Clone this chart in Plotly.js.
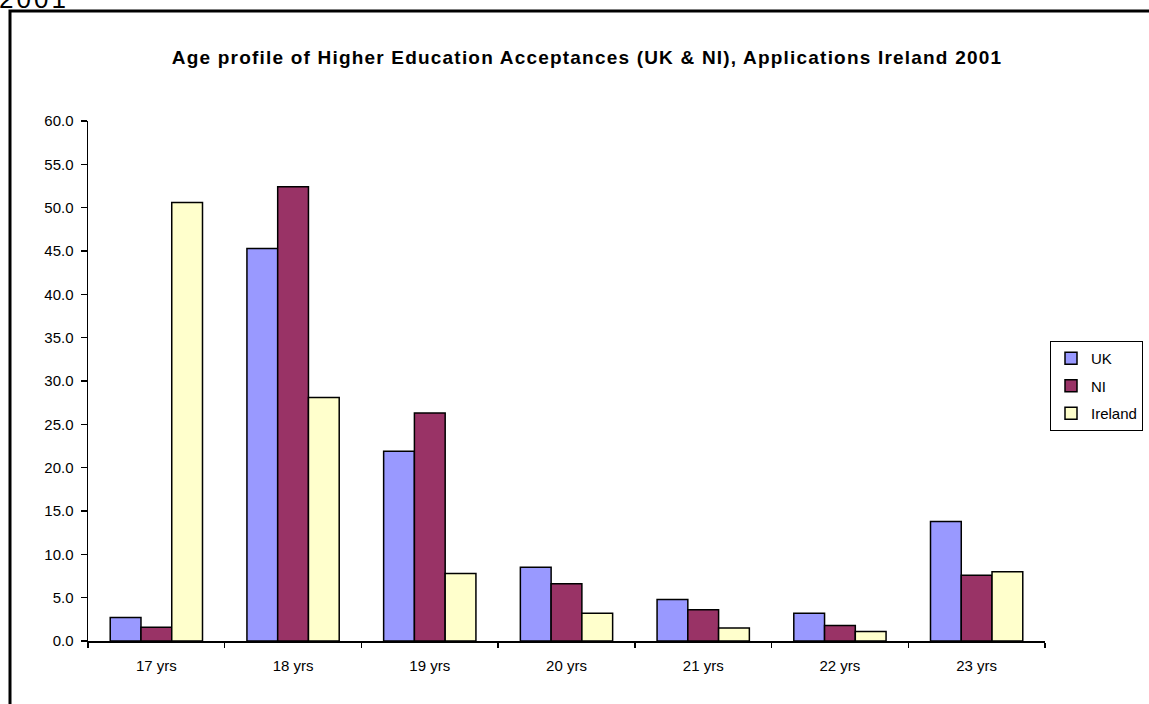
<!DOCTYPE html>
<html>
<head>
<meta charset="utf-8">
<script src="https://cdn.plot.ly/plotly-3.0.1.min.js"></script>
<style>
html,body{margin:0;padding:0;background:#fff;}
#chart{width:1149px;height:704px;}
#chart .gtitle{letter-spacing:1.2px;}
#chart .annotation-text{letter-spacing:3px;}
</style>
</head>
<body>
<div id="chart"></div>
<script>
const categories = ["17 yrs","18 yrs","19 yrs","20 yrs","21 yrs","22 yrs","23 yrs"];
const ukValues = [2.7, 45.3, 21.9, 8.5, 4.8, 3.2, 13.8];
const niValues = [1.6, 52.4, 26.3, 6.6, 3.6, 1.8, 7.6];
const irelandValues = [50.6, 28.1, 7.8, 3.2, 1.5, 1.1, 8.0];
const seriesNames = ["UK", "NI", "Ireland"];
const seriesColors = ["#9999FF", "#993366", "#FFFFCC"];

const W = 1149, H = 704;
const L = 88, R = 104, T = 121, B = 63;
const pw = W - L - R, ph = H - T - B;
const px = x => (x - L) / pw;
const py = y => (H - B - y) / ph;

const font = "Liberation Sans, Arial, sans-serif";
const allValues = [ukValues, niValues, irelandValues];
const traces = allValues.map((vals, i) => ({
  type: "bar",
  name: seriesNames[i],
  x: categories,
  y: vals,
  legendgroup: "g" + i,
  marker: {color: seriesColors[i], line: {color: "#000", width: 1.5}},
  hoverinfo: "x+y+name"
}));

const layout = {
  width: W, height: H,
  margin: {l: L, r: R, t: T, b: B, pad: 0, autoexpand: false},
  paper_bgcolor: "#fff", plot_bgcolor: "#fff",
  font: {family: font, color: "#000", size: 15},
  title: {
    text: "<b>Age profile of Higher Education Acceptances (UK & NI), Applications Ireland 2001</b>",
    font: {family: font, size: 19, color: "#000"},
    x: px(587), xref: "paper", xanchor: "center",
    y: 1 - 57 / H, yanchor: "middle"
  },
  barmode: "group",
  bargap: 0.325,
  bargroupgap: 0,
  xaxis: {
    type: "category",
    showline: true, linecolor: "#000", linewidth: 1.5,
    ticks: "outside", tickson: "boundaries", ticklen: 5, tickcolor: "#000", tickwidth: 1.5,
    ticklabelstandoff: 10,
    showgrid: false, zeroline: false,
    tickfont: {family: font, size: 15, color: "#000"},
    fixedrange: true
  },
  yaxis: {
    range: [0, 60], dtick: 5, tick0: 0, tickformat: ".1f",
    showline: true, linecolor: "#000", linewidth: 1.5,
    ticks: "outside", ticklen: 6, tickcolor: "#000", tickwidth: 1.5,
    ticklabelstandoff: 4,
    showgrid: false, zeroline: false,
    tickfont: {family: font, size: 15, color: "#000"},
    fixedrange: true
  },
  legend: {
    x: px(1050), y: py(341), xanchor: "left", yanchor: "top",
    bordercolor: "#000", borderwidth: 1, bgcolor: "#fff",
    font: {family: font, size: 15, color: "#000"},
    traceorder: "grouped", tracegroupgap: 5,
    itemwidth: 30
  },
  shapes: [{
    type: "rect", xref: "paper", yref: "paper",
    x0: px(10), x1: px(1170), y0: py(730), y1: py(11),
    line: {color: "#000", width: 3}, fillcolor: "rgba(0,0,0,0)", layer: "below"
  }],
  annotations: [{
    text: "2001", xref: "paper", yref: "paper",
    x: px(3), y: py(16), xanchor: "left", yanchor: "bottom",
    showarrow: false, font: {family: font, size: 26, color: "#000"}
  }]
};

Plotly.newPlot("chart", traces, layout, {displayModeBar: false, staticPlot: true});
</script>
</body>
</html>
